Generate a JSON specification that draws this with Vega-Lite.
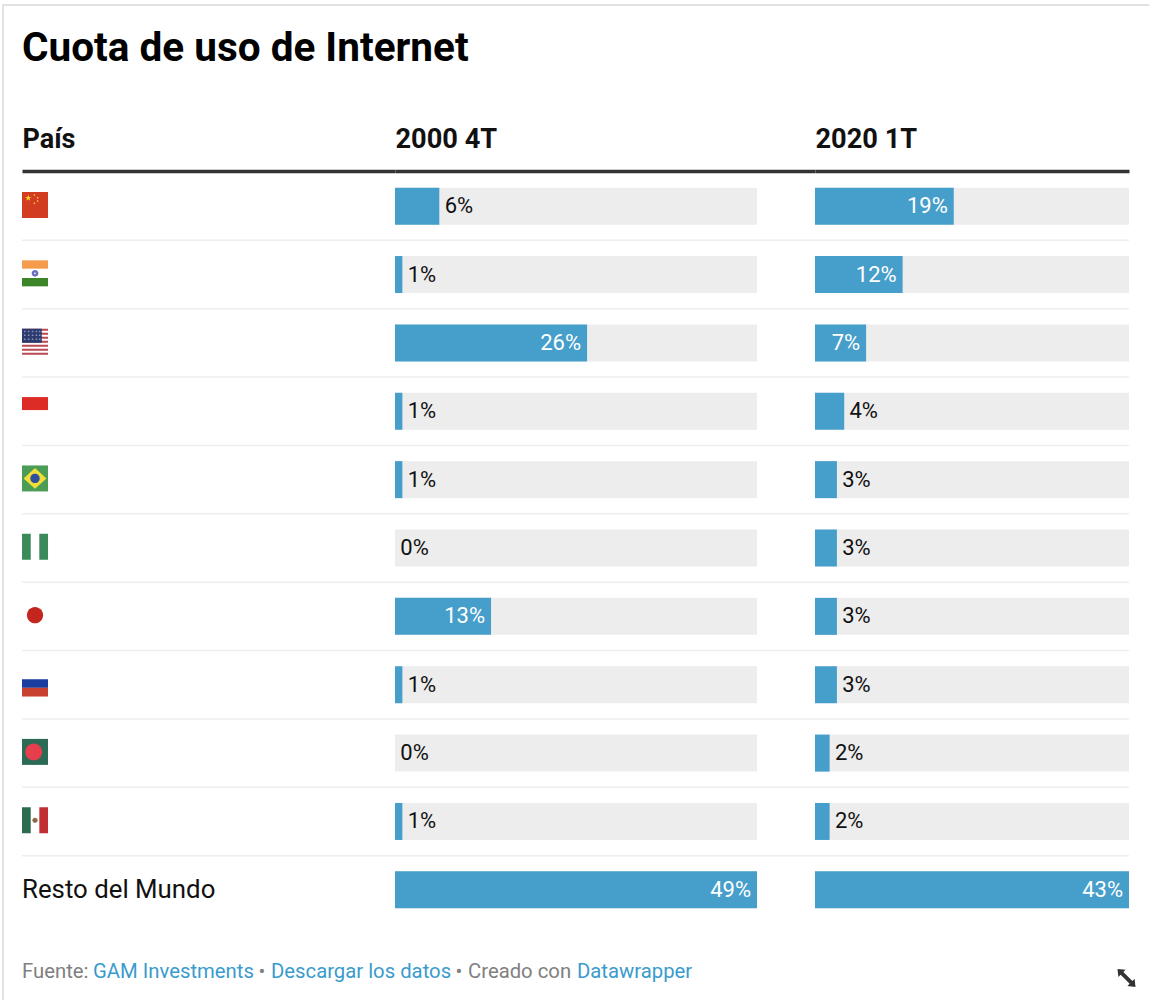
{
"$schema":"https://vega.github.io/schema/vega-lite/v6.json",
"padding":{"left":2,"top":4,"right":0,"bottom":0},
"background":"#ffffff",
"config":{"view":{"stroke":null},"font":"Roboto","concat":{"spacing":0}},
"datasets":{
"paises":[
{"pais":"China","v2000":0.06,"v2020":0.19},
{"pais":"India","v2000":0.01,"v2020":0.12},
{"pais":"Estados Unidos","v2000":0.26,"v2020":0.07},
{"pais":"Indonesia","v2000":0.01,"v2020":0.04},
{"pais":"Brasil","v2000":0.01,"v2020":0.03},
{"pais":"Nigeria","v2000":0.00,"v2020":0.03},
{"pais":"Japón","v2000":0.13,"v2020":0.03},
{"pais":"Rusia","v2000":0.01,"v2020":0.03},
{"pais":"Bangladés","v2000":0.00,"v2020":0.02},
{"pais":"México","v2000":0.01,"v2020":0.02},
{"pais":"Resto del Mundo","v2000":0.49,"v2020":0.43}
],
"banderas":[
{"pais":"China","parte":"cn_fondo"},{"pais":"China","parte":"cn_estrellas"},
{"pais":"India","parte":"in_azafran"},{"pais":"India","parte":"in_verde"},{"pais":"India","parte":"in_rueda"},
{"pais":"Estados Unidos","parte":"us_franjas"},{"pais":"Estados Unidos","parte":"us_canton"},{"pais":"Estados Unidos","parte":"us_estrellas"},
{"pais":"Indonesia","parte":"id_rojo"},
{"pais":"Brasil","parte":"br_verde"},{"pais":"Brasil","parte":"br_rombo"},{"pais":"Brasil","parte":"br_globo"},
{"pais":"Nigeria","parte":"ng_verde"},
{"pais":"Japón","parte":"jp_sol"},
{"pais":"Rusia","parte":"ru_azul"},{"pais":"Rusia","parte":"ru_rojo"},
{"pais":"Bangladés","parte":"bd_verde"},{"pais":"Bangladés","parte":"bd_disco"},
{"pais":"México","parte":"mx_verde"},{"pais":"México","parte":"mx_rojo"},{"pais":"México","parte":"mx_escudo"}
],
"pie":[
{"orden":1,"texto":"Fuente:","tipo":"texto"},
{"orden":2,"texto":"GAM Investments","tipo":"enlace"},
{"orden":3,"texto":"•","tipo":"texto"},
{"orden":4,"texto":"Descargar los datos","tipo":"enlace"},
{"orden":5,"texto":"•","tipo":"texto"},
{"orden":6,"texto":"Creado con","tipo":"texto"},
{"orden":7,"texto":"Datawrapper","tipo":"enlace"}
]
},
"vconcat":[
{"width":1147.5,"height":2,"data":{"values":[{"a":1}]},"mark":{"type":"rect","color":"#e2e2e2"}},
{"hconcat":[
{"width":2,"height":994,"data":{"values":[{"a":1}]},"mark":{"type":"rect","color":"#e2e2e2"}},
{"vconcat":[
{"width":1108.5,"height":119,
 "title":{"text":"Cuota de uso de Internet","anchor":"start","fontSize":40.5,"fontWeight":700,"font":"Roboto","color":"#000000","offset":-63},
 "data":{"values":[{"a":1}]},"mark":{"type":"rect","opacity":0}},
{"hconcat":[
{"width":373,"height":752,"layer":[
 {"data":{"name":"paises"},"transform":[{"filter":"datum.pais !== 'Resto del Mundo'"}],"mark":{"type":"rule","color":"#eeeeee","strokeWidth":1.5},
  "encoding":{"y":{"field":"pais","type":"nominal","bandPosition":1,"axis":null,"sort":null,"scale":{"type":"band","paddingInner":0,"paddingOuter":0,"domain":["China","India","Estados Unidos","Indonesia","Brasil","Nigeria","Japón","Rusia","Bangladés","México","Resto del Mundo"]}}}},
 {"data":{"name":"banderas"},"mark":{"type":"point","filled":true,"opacity":1,"strokeWidth":0,"size":676,"yOffset":-1.2},
  "encoding":{
   "x":{"datum":0.0349,"type":"quantitative","scale":{"domain":[0,1]},"axis":{"title":"País","orient":"top","offset":1,"labels":false,"ticks":false,"grid":false,"domainColor":"#333333","domainWidth":3.5,"titleFontSize":27,"titleFontWeight":700,"titleFont":"Roboto","titleColor":"#111111","titleAlign":"left","titleAnchor":"start","titlePadding":18}},
   "y":{"field":"pais","type":"nominal","bandPosition":0.5,"axis":null,"sort":null,"scale":{"type":"band","paddingInner":0,"paddingOuter":0,"domain":["China","India","Estados Unidos","Indonesia","Brasil","Nigeria","Japón","Rusia","Bangladés","México","Resto del Mundo"]}},
   "color":{"field":"parte","type":"nominal","legend":null,"scale":{
     "domain":["cn_fondo","cn_estrellas","in_azafran","in_verde","in_rueda","us_franjas","us_canton","us_estrellas","id_rojo","br_verde","br_rombo","br_globo","ng_verde","jp_sol","ru_azul","ru_rojo","bd_verde","bd_disco","mx_verde","mx_rojo","mx_escudo"],
     "range":["#d23c21","#f6d32c","#f49c4c","#3c8629","#6a70bd","#bb4a55","#2b3a6f","#8a93b5","#dd2b26","#4b9c55","#f2dc37","#2d4f9e","#3a8a5c","#c4261d","#1a3ea0","#c8402f","#2b6a55","#e63e4c","#2b6b4e","#c12f34","#8a6a4a"]}},
   "shape":{"field":"parte","type":"nominal","legend":null,"scale":{
     "domain":["cn_fondo","cn_estrellas","in_azafran","in_verde","in_rueda","us_franjas","us_canton","us_estrellas","id_rojo","br_verde","br_rombo","br_globo","ng_verde","jp_sol","ru_azul","ru_rojo","bd_verde","bd_disco","mx_verde","mx_rojo","mx_escudo"],
     "range":[
      "M-1,-1L1,-1L1,1L-1,1Z",
      "M-0.52,-0.8L-0.461,-0.621L-0.273,-0.62L-0.425,-0.511L-0.367,-0.33L-0.52,-0.44L-0.673,-0.33L-0.615,-0.511L-0.767,-0.62L-0.579,-0.621ZM-0.05,-0.85L0.03,-0.77L-0.05,-0.69L-0.13,-0.77ZM0.2,-0.64L0.28,-0.56L0.2,-0.48L0.12,-0.56ZM0.2,-0.39L0.28,-0.31L0.2,-0.23L0.12,-0.31ZM-0.05,-0.21L0.03,-0.13L-0.05,-0.05L-0.13,-0.13Z",
      "M-1,-1L1,-1L1,-0.36L-1,-0.36Z",
      "M-1,0.36L1,0.36L1,1L-1,1Z",
      "M-0.26,0A0.26,0.26,0,1,1,0.26,0A0.26,0.26,0,1,1,-0.26,0ZM-0.07,0A0.07,0.07,0,1,0,0.07,0A0.07,0.07,0,1,0,-0.07,0Z",
      "M-1,-1L1,-1L1,-0.846L-1,-0.846ZM-1,-0.692L1,-0.692L1,-0.538L-1,-0.538ZM-1,-0.385L1,-0.385L1,-0.231L-1,-0.231ZM-1,-0.077L1,-0.077L1,0.077L-1,0.077ZM-1,0.231L1,0.231L1,0.385L-1,0.385ZM-1,0.538L1,0.538L1,0.692L-1,0.692ZM-1,0.846L1,0.846L1,1L-1,1Z",
      "M-1,-1L0.52,-1L0.52,0.08L-1,0.08Z",
      "M-0.85,-0.85h0.12v0.12h-0.12ZM-0.55,-0.85h0.12v0.12h-0.12ZM-0.25,-0.85h0.12v0.12h-0.12ZM0.05,-0.85h0.12v0.12h-0.12ZM0.3,-0.85h0.12v0.12h-0.12ZM-0.85,-0.55h0.12v0.12h-0.12ZM-0.55,-0.55h0.12v0.12h-0.12ZM-0.25,-0.55h0.12v0.12h-0.12ZM0.05,-0.55h0.12v0.12h-0.12ZM0.3,-0.55h0.12v0.12h-0.12ZM-0.85,-0.25h0.12v0.12h-0.12ZM-0.55,-0.25h0.12v0.12h-0.12ZM-0.25,-0.25h0.12v0.12h-0.12ZM0.05,-0.25h0.12v0.12h-0.12ZM0.3,-0.25h0.12v0.12h-0.12Z",
      "M-1,-1L1,-1L1,0L-1,0Z",
      "M-1,-1L1,-1L1,1L-1,1Z",
      "M0,-0.8L0.88,0L0,0.8L-0.88,0Z",
      "M-0.36,0A0.36,0.36,0,1,1,0.36,0A0.36,0.36,0,1,1,-0.36,0Z",
      "M-1,-1L-0.33,-1L-0.33,1L-1,1ZM0.33,-1L1,-1L1,1L0.33,1Z",
      "M-0.62,0A0.62,0.62,0,1,1,0.62,0A0.62,0.62,0,1,1,-0.62,0Z",
      "M-1,-0.33L1,-0.33L1,0.33L-1,0.33Z",
      "M-1,0.33L1,0.33L1,1L-1,1Z",
      "M-1,-1L1,-1L1,1L-1,1Z",
      "M-0.75,0A0.65,0.65,0,1,1,0.55,0A0.65,0.65,0,1,1,-0.75,0Z",
      "M-1,-1L-0.33,-1L-0.33,1L-1,1Z",
      "M0.33,-1L1,-1L1,1L0.33,1Z",
      "M-0.2,0A0.2,0.2,0,1,1,0.2,0A0.2,0.2,0,1,1,-0.2,0Z"
     ]}}
  }},
 {"data":{"name":"paises"},"transform":[{"filter":"datum.pais === 'Resto del Mundo'"}],"mark":{"type":"text","align":"left","baseline":"middle","fontSize":25.8,"font":"Roboto","color":"#111111"},
  "encoding":{"x":{"datum":0,"type":"quantitative","scale":{"domain":[0,1]}},
   "y":{"field":"pais","type":"nominal","axis":null,"sort":null,"scale":{"type":"band","paddingInner":0,"paddingOuter":0,"domain":["China","India","Estados Unidos","Indonesia","Brasil","Nigeria","Japón","Rusia","Bangladés","México","Resto del Mundo"]}},
   "text":{"field":"pais","type":"nominal"}}}
]},
{"width":420,"height":752,"data":{"name":"paises"},
 "encoding":{"y":{"field":"pais","type":"nominal","axis":null,"sort":null,"scale":{"type":"band","paddingInner":0,"paddingOuter":0,"domain":["China","India","Estados Unidos","Indonesia","Brasil","Nigeria","Japón","Rusia","Bangladés","México","Resto del Mundo"]}}},
 "layer":[
 {"transform":[{"filter":"datum.pais !== 'Resto del Mundo'"}],"mark":{"type":"rule","color":"#eeeeee","strokeWidth":1.5},
  "encoding":{"y":{"field":"pais","type":"nominal","bandPosition":1,"axis":null,"sort":null}}},
 {"mark":{"type":"bar","height":37,"color":"#ededed"},
  "encoding":{"x":{"datum":0.49,"type":"quantitative","scale":{"domain":[0,0.5685],"nice":false},"axis":{"title":"2000 4T","orient":"top","offset":1,"labels":false,"ticks":false,"grid":false,"domainColor":"#333333","domainWidth":3.5,"titleFontSize":27.2,"titleFontWeight":700,"titleFont":"Roboto","titleColor":"#111111","titleAlign":"left","titleAnchor":"start","titlePadding":18}}}},
 {"mark":{"type":"bar","height":37,"color":"#469ecb"},
  "encoding":{"x":{"field":"v2000","type":"quantitative"}}},
 {"transform":[{"filter":"datum.v2000 < 0.065"}],"mark":{"type":"text","align":"left","baseline":"middle","dx":5.3,"fontSize":22,"font":"Roboto","color":"#111111"},
  "encoding":{"x":{"field":"v2000","type":"quantitative"},"text":{"field":"v2000","type":"quantitative","format":".0%"}}},
 {"transform":[{"filter":"datum.v2000 >= 0.065"}],"mark":{"type":"text","align":"right","baseline":"middle","dx":-6,"fontSize":22,"font":"Roboto","color":"#ffffff"},
  "encoding":{"x":{"field":"v2000","type":"quantitative"},"text":{"field":"v2000","type":"quantitative","format":".0%"}}}
]},
{"width":314,"height":752,"data":{"name":"paises"},
 "encoding":{"y":{"field":"pais","type":"nominal","axis":null,"sort":null,"scale":{"type":"band","paddingInner":0,"paddingOuter":0,"domain":["China","India","Estados Unidos","Indonesia","Brasil","Nigeria","Japón","Rusia","Bangladés","México","Resto del Mundo"]}}},
 "layer":[
 {"transform":[{"filter":"datum.pais !== 'Resto del Mundo'"}],"mark":{"type":"rule","color":"#eeeeee","strokeWidth":1.5},
  "encoding":{"y":{"field":"pais","type":"nominal","bandPosition":1,"axis":null,"sort":null}}},
 {"mark":{"type":"bar","height":37,"color":"#ededed"},
  "encoding":{"x":{"datum":0.43,"type":"quantitative","scale":{"domain":[0,0.43],"nice":false},"axis":{"title":"2020 1T","orient":"top","offset":1,"labels":false,"ticks":false,"grid":false,"domainColor":"#333333","domainWidth":3.5,"titleFontSize":27.2,"titleFontWeight":700,"titleFont":"Roboto","titleColor":"#111111","titleAlign":"left","titleAnchor":"start","titlePadding":18}}}},
 {"mark":{"type":"bar","height":37,"color":"#469ecb"},
  "encoding":{"x":{"field":"v2020","type":"quantitative"}}},
 {"transform":[{"filter":"datum.v2020 < 0.065"}],"mark":{"type":"text","align":"left","baseline":"middle","dx":5.3,"fontSize":22,"font":"Roboto","color":"#111111"},
  "encoding":{"x":{"field":"v2020","type":"quantitative"},"text":{"field":"v2020","type":"quantitative","format":".0%"}}},
 {"transform":[{"filter":"datum.v2020 >= 0.065"}],"mark":{"type":"text","align":"right","baseline":"middle","dx":-6,"fontSize":22,"font":"Roboto","color":"#ffffff"},
  "encoding":{"x":{"field":"v2020","type":"quantitative"},"text":{"field":"v2020","type":"quantitative","format":".0%"}}}
]}
],"bounds":"flush"},
{"width":1107,"height":76,"layer":[
 {"data":{"name":"pie"},"transform":[{"filter":"datum.tipo === 'texto'"}],"mark":{"type":"text","align":"left","baseline":"middle","fontSize":20.3,"font":"Roboto","color":"#808080"},
  "encoding":{
   "x":{"field":"orden","type":"quantitative","axis":null,"scale":{"type":"linear","nice":false,"zero":false,"domain":[1,2,3,4,5,6,7,8],"range":[0,71,236.5,249,433.5,446,555,1104.5]}},
   "y":{"datum":0.372,"type":"quantitative","axis":null,"scale":{"domain":[0,1]}},
   "text":{"field":"texto","type":"nominal"}}},
 {"data":{"name":"pie"},"transform":[{"filter":"datum.tipo === 'enlace'"}],"mark":{"type":"text","align":"left","baseline":"middle","fontSize":20.3,"font":"Roboto","color":"#3a9bcd"},
  "encoding":{
   "x":{"field":"orden","type":"quantitative"},
   "y":{"datum":0.372,"type":"quantitative"},
   "text":{"field":"texto","type":"nominal"}}},
 {"data":{"values":[{"orden":8}]},"mark":{"type":"point","filled":true,"opacity":1,"strokeWidth":0,"size":324,"color":"#333333","shape":"M-1,-1L-0.1,-0.9L-0.35,-0.65L0.65,0.35L0.9,0.1L1,1L0.1,0.9L0.35,0.65L-0.65,-0.35L-0.9,-0.1Z"},
  "encoding":{
   "x":{"field":"orden","type":"quantitative"},
   "y":{"datum":0.29,"type":"quantitative"}}}
]}
]},
{"width":2,"height":994,"data":{"values":[{"a":1}]},"mark":{"type":"rect","color":"#e2e2e2"}}
],"spacing":17}
]
}
